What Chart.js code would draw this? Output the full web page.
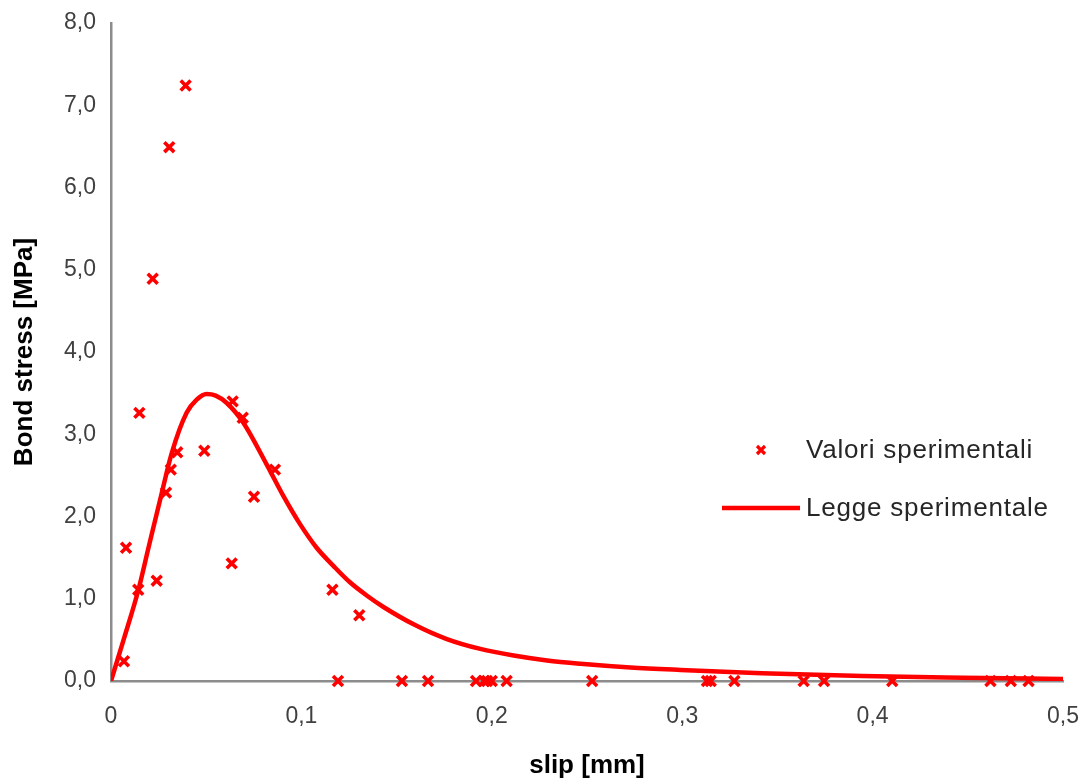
<!DOCTYPE html>
<html>
<head>
<meta charset="utf-8">
<script src="https://cdn.jsdelivr.net/npm/chart.js@4"></script>
<style>
  html, body { margin: 0; padding: 0; background: #fff; }
  #wrap { width: 1089px; height: 782px; }
</style>
</head>
<body>
<div id="wrap"><canvas id="bondChart" width="1089" height="782"></canvas></div>
<script>
// valori sperimentali (slip in mm, tensione in MPa)
const slipExp = [0.0392, 0.0306, 0.0219, 0.0149, 0.0079, 0.0143, 0.0068, 0.0240, 0.0289,
  0.0314, 0.0348, 0.0490, 0.0639, 0.0692, 0.0751, 0.0861, 0.0634, 0.1163, 0.1304,
  0.1192, 0.1528, 0.1665, 0.1917, 0.1959, 0.1975, 0.2000, 0.2078, 0.2527, 0.3130,
  0.3150, 0.3274, 0.3638, 0.3745, 0.4103, 0.4619, 0.4726, 0.4819];
const stressExp = [7.24, 6.49, 4.89, 3.26, 1.62, 1.11, 0.24, 1.22, 2.29,
  2.57, 2.78, 2.80, 3.40, 3.20, 2.24, 2.57, 1.43, 1.11, 0.80,
  0, 0, 0, 0, 0, 0, 0, 0, 0, 0,
  0, 0, 0, 0, 0, 0, 0, 0];

// legge sperimentale letta punto per punto
const slipLaw = [0, 0.007, 0.0143, 0.020, 0.0266, 0.0319, 0.0397, 0.045, 0.0502, 0.055,
  0.0608, 0.0695, 0.0818, 0.0905, 0.0992, 0.108, 0.1168, 0.1255, 0.1343, 0.1431,
  0.1589, 0.1764, 0.194, 0.2115, 0.229, 0.2466, 0.2728, 0.2991, 0.3417, 0.3946,
  0.4476, 0.5];
const stressLaw = [0, 0.53, 1.10, 1.65, 2.28, 2.77, 3.26, 3.42, 3.49, 3.47,
  3.38, 3.14, 2.63, 2.25, 1.91, 1.62, 1.40, 1.20, 1.04, 0.90,
  0.69, 0.51, 0.39, 0.31, 0.25, 0.21, 0.165, 0.135, 0.095, 0.06,
  0.04, 0.025];

const xTickLabels = ['0', '0,1', '0,2', '0,3', '0,4', '0,5'];
const yTickLabels = ['0,0', '1,0', '2,0', '3,0', '4,0', '5,0', '6,0', '7,0', '8,0'];

const seriesNames = ['Valori sperimentali', 'Legge sperimentale'];

const RED = '#ff0000';
const AXIS = '#8c8c8c';
const FONT = "'Liberation Sans', Arial, sans-serif";

const toPoints = (xs, ys) => xs.map((x, i) => ({ x: x, y: ys[i] }));

// legenda disegnata dentro l'area del grafico
const insideLegend = {
  id: 'insideLegend',
  afterDraw(chart) {
    const ctx = chart.ctx;
    ctx.save();
    ctx.font = '26px ' + FONT;
    ctx.letterSpacing = '0.8px';
    ctx.fillStyle = '#262626';
    ctx.textBaseline = 'middle';

    // marker ×
    const mx = 761, my = 450, r = 4;
    ctx.strokeStyle = RED;
    ctx.lineWidth = 3.2;
    ctx.beginPath();
    ctx.moveTo(mx - r, my - r); ctx.lineTo(mx + r, my + r);
    ctx.moveTo(mx - r, my + r); ctx.lineTo(mx + r, my - r);
    ctx.stroke();
    ctx.fillText(chart.data.datasets[0].label, 806, my + 1);

    // linea
    const ly = 508;
    ctx.lineWidth = 4.5;
    ctx.beginPath();
    ctx.moveTo(722, ly); ctx.lineTo(800, ly);
    ctx.stroke();
    ctx.fillText(chart.data.datasets[1].label, 806, ly + 1);
    ctx.restore();
  }
};

new Chart(document.getElementById('bondChart'), {
  type: 'scatter',
  data: {
    datasets: [
      {
        label: seriesNames[0],
        data: toPoints(slipExp, stressExp),
        pointStyle: 'crossRot',
        pointRadius: 7,
        pointBorderWidth: 3.6,
        borderColor: RED,
        backgroundColor: RED,
        clip: false,
        order: 1
      },
      {
        label: seriesNames[1],
        data: toPoints(slipLaw, stressLaw),
        showLine: true,
        pointRadius: 0,
        borderColor: RED,
        borderWidth: 4.5,
        cubicInterpolationMode: 'monotone',
        order: 2
      }
    ]
  },
  options: {
    responsive: false,
    animation: false,
    layout: { padding: { top: 23, right: 26, left: 0, bottom: 0 } },
    plugins: {
      legend: { display: false },
      tooltip: { enabled: false }
    },
    scales: {
      x: {
        type: 'linear',
        min: 0,
        max: 0.5,
        afterFit: (axis) => {
          axis.height = 101;
          axis.paddingLeft = 0;
          axis.paddingRight = 0;
        },
        afterBuildTicks: (axis) => {
          axis.ticks = xTickLabels.map((_, i) => ({ value: i / 10 }));
        },
        ticks: {
          callback: (v, i) => xTickLabels[i],
          font: { family: FONT, size: 23 },
          color: '#404040',
          padding: 15,
          maxRotation: 0
        },
        grid: { display: false, drawTicks: true, tickLength: 7, tickColor: AXIS, tickWidth: 2.5 },
        border: { display: true, color: AXIS, width: 2.5 },
        title: {
          display: true,
          text: 'slip [mm]',
          font: { family: FONT, size: 26, weight: 'bold' },
          color: '#000',
          padding: { top: 0, bottom: 1 }
        }
      },
      y: {
        type: 'linear',
        min: 0,
        max: 8,
        afterFit: (axis) => { axis.width = 111; },
        afterBuildTicks: (axis) => {
          axis.ticks = yTickLabels.map((_, i) => ({ value: i }));
        },
        ticks: {
          callback: (v, i) => yTickLabels[i],
          font: { family: FONT, size: 23 },
          color: '#404040',
          padding: 8
        },
        grid: { display: false, drawTicks: true, tickLength: 7, tickColor: AXIS, tickWidth: 2.5 },
        border: { display: true, color: AXIS, width: 2.5 },
        title: {
          display: true,
          text: 'Bond stress [MPa]',
          font: { family: FONT, size: 26, weight: 'bold' },
          color: '#000',
          padding: { top: 9, bottom: 0 }
        }
      }
    }
  },
  plugins: [insideLegend]
});
</script>
</body>
</html>
